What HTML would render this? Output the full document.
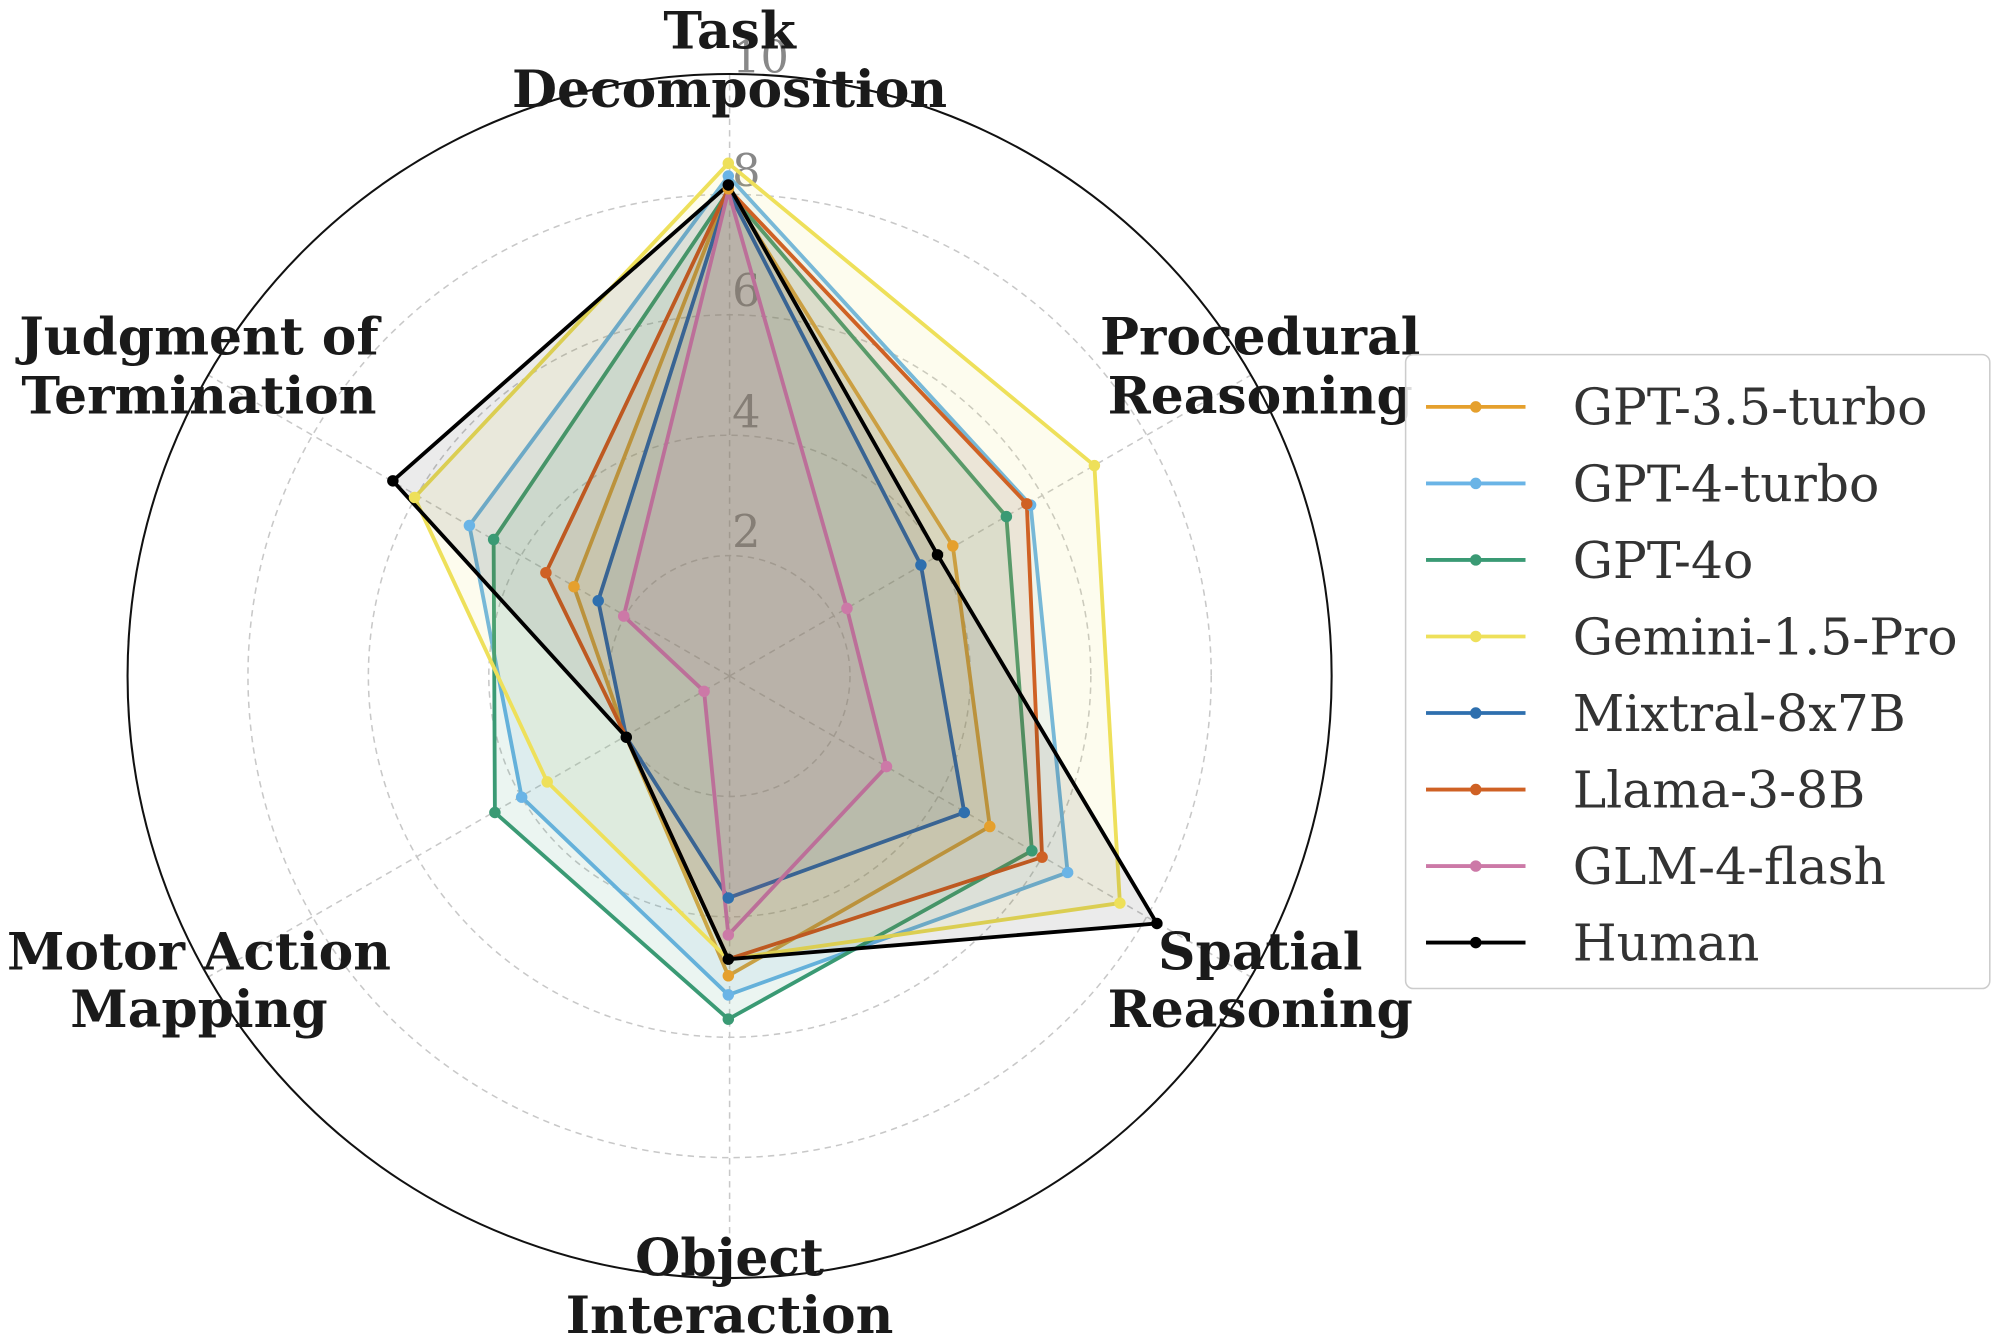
<!DOCTYPE html>
<html><head><meta charset="utf-8"><style>html,body{margin:0;padding:0;background:#fff}svg{display:block}</style></head>
<body>
<svg width="2000" height="1344" viewBox="0 0 1568 1053.7" xmlns="http://www.w3.org/2000/svg">
<g fill="none" stroke="#c8c8c8" stroke-width="1.2" stroke-dasharray="5,4">
<circle cx="572" cy="530" r="94.4"/><circle cx="572" cy="530" r="188.8"/><circle cx="572" cy="530" r="283.2"/><circle cx="572" cy="530" r="377.6"/>
<line x1="572" y1="530" x2="572" y2="58"/><line x1="572" y1="530" x2="980.8" y2="294"/><line x1="572" y1="530" x2="980.8" y2="766"/>
<line x1="572" y1="530" x2="572" y2="1002"/><line x1="572" y1="530" x2="163.2" y2="766"/><line x1="572" y1="530" x2="163.2" y2="294"/>
</g>
<circle cx="572" cy="530" r="472" fill="none" stroke="#111" stroke-width="1.6"/>
<g font-family="'DejaVu Serif','Liberation Serif',serif" font-size="35" fill="#888">
<text x="574" y="57">10</text><text x="574" y="146">8</text><text x="574" y="240">6</text><text x="574" y="335">4</text><text x="574" y="429">2</text>
</g>
<g stroke-width="3" stroke-linejoin="miter">
<polygon points="571,148 747,428 776,648 571,765 491,578 450,460" fill="#E5A02D" fill-opacity="0.1" stroke="#E5A02D"/>
<polygon points="571,138 808,396 837,684 571,780 409,625 368,412" fill="#6AB4E6" fill-opacity="0.1" stroke="#6AB4E6"/>
<polygon points="571,150 789,405 809,667 571,799 388,637 387,423" fill="#3A9A74" fill-opacity="0.1" stroke="#3A9A74"/>
<polygon points="571,128 858,365 878,708 571,752 429,613 325,390" fill="#EEE05A" fill-opacity="0.1" stroke="#EEE05A"/>
<polygon points="571,150 722,443 756,637 571,704 491,578 469,471" fill="#2E6FAE" fill-opacity="0.1" stroke="#2E6FAE"/>
<polygon points="571,148 805,395 817,672 571,752 491,578 428,449" fill="#CF6124" fill-opacity="0.1" stroke="#CF6124"/>
<polygon points="571,150 664,477 695,601 571,733 552,542 489,483" fill="#CC79A7" fill-opacity="0.1" stroke="#CC79A7"/>
<polygon points="571,145 735,435 907,724 571,752 491,578 308,377" fill="#000" fill-opacity="0.08" stroke="#000"/>
</g>
<g>
<g fill="#E5A02D"><circle cx="571" cy="148" r="4.5"/><circle cx="747" cy="428" r="4.5"/><circle cx="776" cy="648" r="4.5"/><circle cx="571" cy="765" r="4.5"/><circle cx="450" cy="460" r="4.5"/></g>
<g fill="#6AB4E6"><circle cx="571" cy="138" r="4.5"/><circle cx="808" cy="396" r="4.5"/><circle cx="837" cy="684" r="4.5"/><circle cx="571" cy="780" r="4.5"/><circle cx="409" cy="625" r="4.5"/><circle cx="368" cy="412" r="4.5"/></g>
<g fill="#3A9A74"><circle cx="789" cy="405" r="4.5"/><circle cx="809" cy="667" r="4.5"/><circle cx="571" cy="799" r="4.5"/><circle cx="388" cy="637" r="4.5"/><circle cx="387" cy="423" r="4.5"/></g>
<g fill="#EEE05A"><circle cx="571" cy="128" r="4.5"/><circle cx="858" cy="365" r="4.5"/><circle cx="878" cy="708" r="4.5"/><circle cx="429" cy="613" r="4.5"/><circle cx="325" cy="390" r="4.5"/></g>
<g fill="#2E6FAE"><circle cx="722" cy="443" r="4.5"/><circle cx="756" cy="637" r="4.5"/><circle cx="571" cy="704" r="4.5"/><circle cx="469" cy="471" r="4.5"/></g>
<g fill="#CF6124"><circle cx="805" cy="395" r="4.5"/><circle cx="817" cy="672" r="4.5"/><circle cx="428" cy="449" r="4.5"/></g>
<g fill="#CC79A7"><circle cx="664" cy="477" r="4.5"/><circle cx="695" cy="601" r="4.5"/><circle cx="571" cy="733" r="4.5"/><circle cx="552" cy="542" r="4.5"/><circle cx="489" cy="483" r="4.5"/></g>
<g fill="#000"><circle cx="571" cy="145" r="4.5"/><circle cx="735" cy="435" r="4.5"/><circle cx="907" cy="724" r="4.5"/><circle cx="571" cy="752" r="4.5"/><circle cx="491" cy="578" r="4.5"/><circle cx="308" cy="377" r="4.5"/></g>
</g>
<g font-family="'DejaVu Serif','Liberation Serif',serif" font-weight="bold" font-size="40.7" fill="#1a1a1a" text-anchor="middle">
<text x="572" y="38">Task</text><text x="572" y="84">Decomposition</text>
<text x="988" y="278">Procedural</text><text x="988" y="324">Reasoning</text>
<text x="988" y="760">Spatial</text><text x="988" y="805">Reasoning</text>
<text x="572" y="1000">Object</text><text x="572" y="1045">Interaction</text>
<text x="156" y="760">Motor Action</text><text x="156" y="805">Mapping</text>
<text x="156" y="278">Judgment of</text><text x="156" y="324">Termination</text>
</g>
<rect x="1102" y="278" width="458" height="497" rx="6" fill="#fff" fill-opacity="0.85" stroke="#ccc" stroke-width="1.2"/>
<g stroke-width="3">
<line x1="1118" y1="319" x2="1196" y2="319" stroke="#E5A02D"/><circle cx="1157" cy="319" r="4.5" fill="#E5A02D"/>
<line x1="1118" y1="379" x2="1196" y2="379" stroke="#6AB4E6"/><circle cx="1157" cy="379" r="4.5" fill="#6AB4E6"/>
<line x1="1118" y1="439" x2="1196" y2="439" stroke="#3A9A74"/><circle cx="1157" cy="439" r="4.5" fill="#3A9A74"/>
<line x1="1118" y1="499" x2="1196" y2="499" stroke="#EEE05A"/><circle cx="1157" cy="499" r="4.5" fill="#EEE05A"/>
<line x1="1118" y1="559" x2="1196" y2="559" stroke="#2E6FAE"/><circle cx="1157" cy="559" r="4.5" fill="#2E6FAE"/>
<line x1="1118" y1="619" x2="1196" y2="619" stroke="#CF6124"/><circle cx="1157" cy="619" r="4.5" fill="#CF6124"/>
<line x1="1118" y1="679" x2="1196" y2="679" stroke="#CC79A7"/><circle cx="1157" cy="679" r="4.5" fill="#CC79A7"/>
<line x1="1118" y1="739" x2="1196" y2="739" stroke="#000"/><circle cx="1157" cy="739" r="4.5" fill="#000"/>
</g>
<g font-family="'DejaVu Serif','Liberation Serif',serif" font-size="39.5" fill="#333">
<text x="1233" y="333">GPT-3.5-turbo</text><text x="1233" y="393">GPT-4-turbo</text><text x="1233" y="453">GPT-4o</text>
<text x="1233" y="513">Gemini-1.5-Pro</text><text x="1233" y="573">Mixtral-8x7B</text><text x="1233" y="633">Llama-3-8B</text>
<text x="1233" y="693">GLM-4-flash</text><text x="1233" y="753">Human</text>
</g>
</svg>
</body></html>
